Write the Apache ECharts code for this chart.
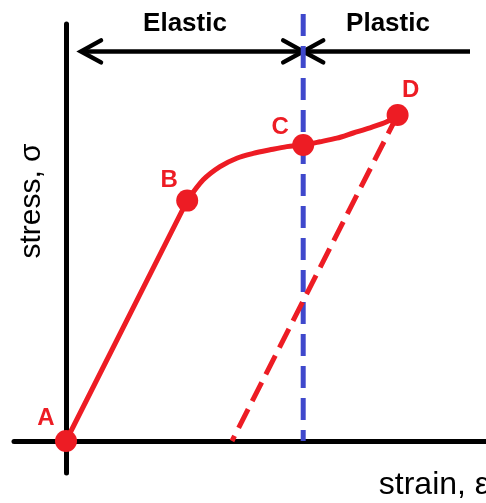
<!DOCTYPE html>
<html><head><meta charset="utf-8">
<script src="https://cdn.jsdelivr.net/npm/echarts@6/dist/echarts.min.js"></script>
<style>html,body{margin:0;padding:0;background:#fff}#c{width:486px;height:503px}</style>
</head><body><div id="c"></div>
<script>
// Key points on the stress-strain curve
const pointNames = ['A', 'B', 'C', 'D'];
const pointStrain = [0, 3.03, 5.93, 8.29];
const pointStress = [0, 6.01, 7.40, 8.15];
// Curve B -> C -> D
const curveStrain = [3.03, 3.43, 3.85, 4.27, 4.68, 5.10, 5.52, 5.93, 6.35, 6.77, 7.18, 7.60, 8.02, 8.29];
const curveStress = [6.01, 6.53, 6.86, 7.07, 7.19, 7.28, 7.36, 7.40, 7.48, 7.57, 7.70, 7.83, 7.98, 8.15];
// Unloading line from D back to the strain axis
const unloadStrain = [8.29, 4.15];
const unloadStress = [8.15, 0];
// Elastic / plastic boundary
const yieldStrain = [5.93, 5.93];
const yieldStress = [10.675, 0];
// Region arrows and labels
const regionNames = ['Elastic', 'Plastic'];
const regionStart = [0.375, 5.93];
const regionEnd = [5.93, 10.1];
const regionArrowStress = [9.74, 9.74];
const regionLabelStrain = [2.975, 8.05];
const regionLabelStress = [10.425, 10.425];
// Axis titles
const axisTitles = ['stress, σ', 'strain, ε'];
const axisTitleStrain = [-0.85, 7.82];
const axisTitleStress = [6.0, -1.1];

const RED = '#ED1C24', BLUE = '#3F48CC';
const regionHeads = [[true, true], [true, false]];
const pointLabelOffsets = [[-20, -23], [-18, -20], [-23, -18], [13, -25]];
const axisTitleSizes = [30, 32];

const chart = echarts.init(document.getElementById('c'), null, {renderer: 'canvas'});

const zip = (a, b) => a.map((v, i) => [v, b[i]]);

const axisCommon = {
  type: 'value',
  axisLine: {show: true, onZero: true, lineStyle: {color: '#000', width: 5, cap: 'round'}},
  axisTick: {show: false},
  axisLabel: {show: false},
  splitLine: {show: false}
};

chart.setOption({
  animation: false,
  backgroundColor: '#fff',
  grid: {left: 14, right: 0, top: 24, bottom: 30},
  xAxis: Object.assign({}, axisCommon, {min: -1.3, max: 10.5}),
  yAxis: Object.assign({}, axisCommon, {min: -0.8, max: 10.425}),
  series: [
    {
      type: 'custom', z: 2, clip: false,
      encode: {x: [0, 1], y: 2},
      data: regionNames.map((n, i) => [regionStart[i], regionEnd[i], regionArrowStress[i]]),
      renderItem: (params, api) => {
        const i = params.dataIndex;
        const p1 = api.coord([api.value(0), api.value(2)]);
        const p2 = api.coord([api.value(1), api.value(2)]);
        const st = {stroke: '#000', fill: null, lineWidth: 4.5, lineCap: 'round', lineJoin: 'miter'};
        const L = 20, H = 11;
        const ch = [{type: 'line', shape: {x1: p1[0], y1: p1[1], x2: p2[0], y2: p2[1]}, style: Object.assign({}, st, {lineCap: 'butt'})}];
        if (regionHeads[i][0]) ch.push({type: 'polyline', shape: {points: [[p1[0] + L, p1[1] - H], [p1[0], p1[1]], [p1[0] + L, p1[1] + H]]}, style: st});
        if (regionHeads[i][1]) ch.push({type: 'polyline', shape: {points: [[p2[0] - L, p2[1] - H], [p2[0], p2[1]], [p2[0] - L, p2[1] + H]]}, style: st});
        return {type: 'group', children: ch};
      }
    },
    {
      type: 'line', z: 3, clip: false, symbol: 'none',
      data: zip(yieldStrain, yieldStress),
      lineStyle: {color: BLUE, width: 5, type: [22, 10], cap: 'butt'}
    },
    {
      type: 'line', z: 4, symbol: 'none',
      data: zip(pointStrain.slice(0, 2), pointStress.slice(0, 2)),
      lineStyle: {color: RED, width: 5, cap: 'round'}
    },
    {
      type: 'line', z: 4, symbol: 'none', smooth: 0.3,
      data: zip(curveStrain, curveStress),
      lineStyle: {color: RED, width: 5, cap: 'round'}
    },
    {
      type: 'line', z: 4, symbol: 'none',
      data: zip(unloadStrain, unloadStress),
      lineStyle: {color: RED, width: 5, type: [21, 9], cap: 'butt'}
    },
    {
      type: 'scatter', z: 5, symbolSize: 22, clip: false,
      itemStyle: {color: RED, opacity: 1},
      data: pointNames.map((n, i) => ({
        value: [pointStrain[i], pointStress[i]],
        label: {offset: pointLabelOffsets[i]}
      })),
      label: {
        show: true, position: 'inside',
        formatter: p => pointNames[p.dataIndex],
        color: RED, fontFamily: 'Liberation Sans, Arial, sans-serif',
        fontWeight: 'bold', fontSize: 24
      }
    },
    {
      type: 'custom', z: 6, clip: false,
      data: regionNames.map((n, i) => [regionLabelStrain[i], regionLabelStress[i]]),
      renderItem: (params, api) => {
        const p = api.coord([api.value(0), api.value(1)]);
        return {type: 'text', x: p[0], y: p[1], style: {
          text: regionNames[params.dataIndex], fill: '#000',
          font: 'bold 26px "Liberation Sans", Arial, sans-serif',
          align: 'center', verticalAlign: 'middle'}};
      }
    },
    {
      type: 'custom', z: 6, clip: false,
      data: axisTitles.map((n, i) => [axisTitleStrain[i], axisTitleStress[i]]),
      renderItem: (params, api) => {
        const i = params.dataIndex;
        const p = api.coord([api.value(0), api.value(1)]);
        return {type: 'text', x: p[0], y: p[1], rotation: i === 0 ? Math.PI / 2 : 0, style: {
          text: axisTitles[i], fill: '#000',
          font: axisTitleSizes[i] + 'px "Liberation Sans", Arial, sans-serif',
          align: i === 0 ? 'center' : 'left', verticalAlign: 'middle'}};
      }
    }
  ]
});
</script></body></html>
